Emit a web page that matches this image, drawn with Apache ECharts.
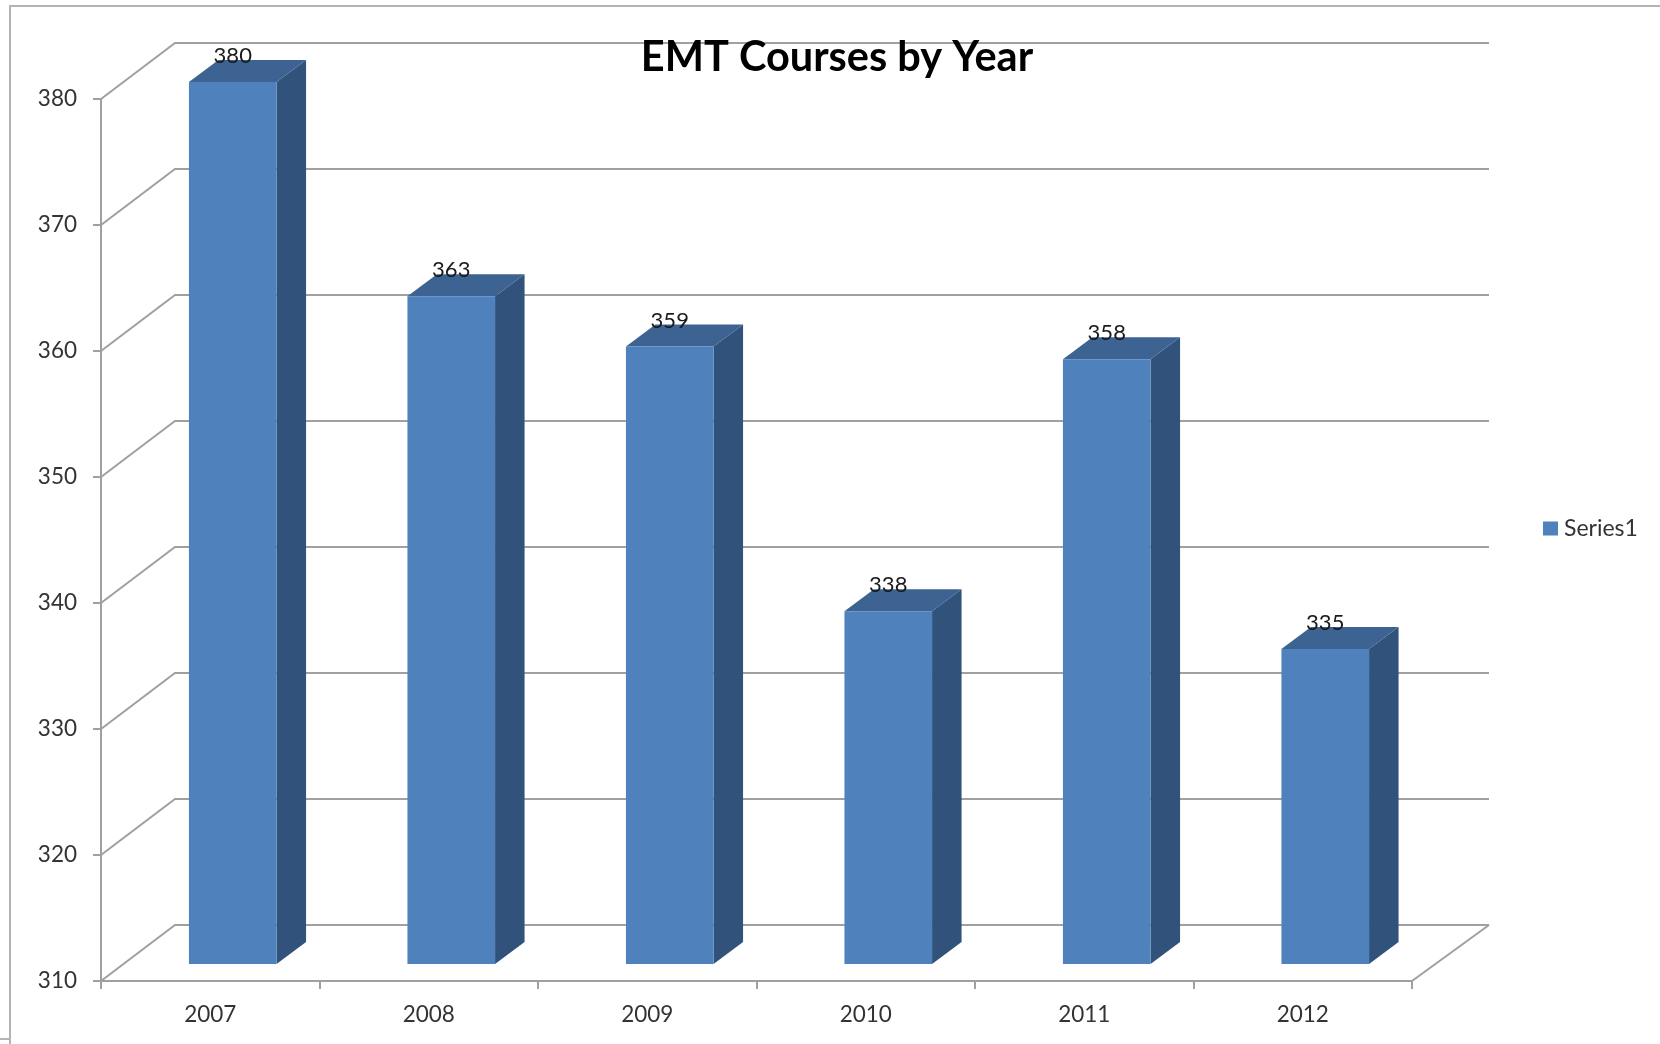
<!DOCTYPE html>
<html><head><meta charset="utf-8">
<style>html,body{margin:0;padding:0;background:#fff}#c{width:1660px;height:1044px;filter:blur(0.5px)}</style>
<script src="https://cdn.jsdelivr.net/npm/echarts@6/dist/echarts.min.js"></script>
</head><body><div id="c"></div>
<script>
const titleText = 'EMT Courses by Year';
const seriesName = 'Series1';
const categories = ['2007','2008','2009','2010','2011','2012'];
const courses = [380,363,359,338,358,335];
const yTicks = [310,320,330,340,350,360,370,380];

const FONT = 'Lato';
const WALL = [74,-56], WALL_RIGHT = 77, BAR_SHIFT = [22.5,-17], BAR_DEPTH = [29.5,-22], BAR_RATIO = 0.401;
const FRONT = '#4f81bd', SIDE = '#31527b', TOP = '#3c6391', GRID = '#a0a0a0', TXT = '#333333';

const chart = echarts.init(document.getElementById('c'), null, {renderer:'canvas'});

function wallItem(params, api){
  const v = api.value(0), cs = params.coordSys;
  const y = api.coord([0,v])[1], x0 = cs.x, x1 = cs.x + cs.width;
  const children = [{type:'polyline', shape:{points:[[x0,y],[x0+WALL[0],y+WALL[1]],[x1+WALL_RIGHT,y+WALL[1]]]},
    style:{stroke:GRID,lineWidth:2,fill:null}}];
  if (v === yTicks[0]) children.push({type:'line', shape:{x1:x1,y1:y,x2:x1+WALL_RIGHT,y2:y+WALL[1]}, style:{stroke:GRID,lineWidth:2}});
  return {type:'group', children};
}
function barItem(params, api){
  const i = api.value(0), v = api.value(1);
  const w = api.size([1,0])[0]*BAR_RATIO;
  const t = api.coord([i,v]), b = api.coord([i,yTicks[0]]);
  const l = t[0]+BAR_SHIFT[0]-w/2, r = l+w, ty = t[1]+BAR_SHIFT[1], by = b[1]+BAR_SHIFT[1];
  const dx = BAR_DEPTH[0], dy = BAR_DEPTH[1];
  return {type:'group', children:[
    {type:'polygon', shape:{points:[[r,ty],[r+dx,ty+dy],[r+dx,by+dy],[r,by]]}, style:{fill:SIDE}},
    {type:'polygon', shape:{points:[[l,ty],[l+dx,ty+dy],[r+dx,ty+dy],[r,ty]]}, style:{fill:TOP}},
    {type:'rect', shape:{x:l,y:ty,width:w,height:by-ty}, style:{fill:FRONT}},
    {type:'text', style:{text:String(v), x:(l+r)/2, y:ty-26, align:'center', verticalAlign:'middle',
      font:'22px '+FONT, fill:'#1a1a1a'}}
  ]};
}

chart.setOption({
  animation:false,
  backgroundColor:'#fff',
  title:{text:titleText, left:832, top:32, textAlign:'center',
    textStyle:{fontFamily:FONT,fontSize:41.5,fontWeight:'bold',color:'#000'}, z:20},
  legend:{data:[seriesName], left:1543, top:517, itemWidth:15, itemHeight:14, itemGap:6, icon:'rect',
    textStyle:{fontFamily:FONT,fontSize:23,color:TXT,padding:[0,0,0,1]}, padding:0},
  grid:{left:101,right:248,top:99,bottom:63},
  xAxis:{type:'category', data:categories,
    axisLine:{lineStyle:{color:GRID,width:2}},
    axisTick:{show:true,length:8,lineStyle:{color:GRID,width:2}},
    axisLabel:{fontFamily:FONT,fontSize:22.5,color:TXT,margin:22}},
  yAxis:{type:'value', min:310, max:380, interval:10,
    axisLine:{show:true,lineStyle:{color:GRID,width:2}},
    axisTick:{show:true,length:8,lineStyle:{color:GRID,width:2}},
    splitLine:{show:false},
    axisLabel:{fontFamily:FONT,fontSize:22.5,color:TXT,margin:24,padding:[2,0,0,0]}},
  series:[
    {name:'wall',type:'custom',renderItem:wallItem,data:yTicks.map(v=>[v]),encode:{y:0},silent:true,z:1},
    {name:seriesName,type:'custom',renderItem:barItem,data:courses.map((v,i)=>[i,v]),encode:{x:0,y:1},
      itemStyle:{color:FRONT},z:2}
  ],
  graphic:[
    {type:'polyline',silent:true,shape:{points:[[1660,6],[10,6],[10,1044]]},style:{stroke:'#b4b4b4',lineWidth:2,fill:null}},
    {type:'line',silent:true,shape:{x1:0,y1:1039,x2:10,y2:1039},style:{stroke:'#b4b4b4',lineWidth:2}}
  ]
});
</script></body></html>
